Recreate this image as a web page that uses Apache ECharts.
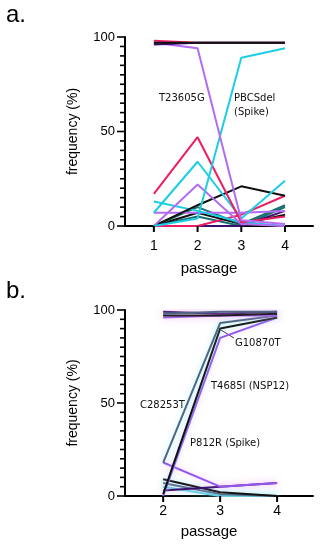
<!DOCTYPE html>
<html><head><meta charset="utf-8">
<script src="https://cdn.jsdelivr.net/npm/echarts@6/dist/echarts.min.js"></script>
<style>html,body{margin:0;padding:0;background:#fff}#c{width:321px;height:550px}</style>
</head><body><div id="c"></div>
<script>
// ---- data: panel a ----
const passagesA = [1, 2, 3, 4];
const aTop1 = [97, 97, 97, 97];
const aTop2 = [96, 97, 97, 97];
const aTop3 = [98, 97, 97, 97];
const aT23605G = [97, 94, 3, 1];
const aPBCSdel = [0, 4, 89, 94];
const aPink2 = [17, 47, 2, 5];
const aCyan2 = [7, 34, 4, 24];
const aLav2 = [0, 22, 1, 0];
const aBlack2 = [0, 11, 21, 16];
const aCyan3 = [13, 8, 2, 0];
const aLav3 = [7, 7, 7, 8];
const aTeal1 = [0, 10, 1, 11];
const aBlack3 = [0, 7, 1, 6];
const aPink3 = [0, 0, 6, 16];
const aDPurple2 = [0, 0, 0, 8];
const aTeal2 = [0, 5, 0, 10];
// ---- data: panel b ----
const passagesB = [2, 3, 4];
const bTop1 = [98, 99, 99];
const bTop2 = [97, 97, 98];
const bTop3 = [99, 98, 99];
const bTop4 = [96, 97, 97];
const bC28253T = [18, 93, 97];
const bT4685I = [1, 90, 96];
const bP812R = [0, 85, 96];
const bLav = [18, 5, 7];
const bDPurple = [3, 5, 7];
const bBlack2 = [9, 2, 0];
const bSlate2 = [7, 1, 0];
const bCyan = [5, 0, 0];
const yTicks = [0, 50, 100];
const yMinorTicks = [5,10,15,20,25,30,35,40,45,55,60,65,70,75,80,85,90,95];
const xRangeA = [0.34, 4.64];
const xRangeB = [1.33, 4.63];

const PINK = '#ee1c62', CYAN = '#1ccde6', LAV = '#b46cf0', BLACK = '#111111',
      DPUR = '#3a0f6e', TEAL = '#17706f', SLATE = '#4d6685', PURP = '#9457ee', LCYAN = '#63cde0';

function pairs(xs, ys) { return xs.map((x, i) => [x, ys[i]]); }
function ser(idx, xs, ys, color, glow) {
  const ls = { color: color, width: 2 };
  if (glow) { ls.shadowColor = glow; ls.shadowBlur = 6; }
  return { type: 'line', xAxisIndex: idx, yAxisIndex: idx, data: pairs(xs, ys),
    symbol: 'none', lineStyle: ls, silent: true, animation: false, z: 3 };
}
// tick marks drawn by a custom series through the axes' scales
function tickSeries(idx, points, dx, dy, w) {
  return { type: 'custom', xAxisIndex: idx, yAxisIndex: idx, data: points,
    clip: false, silent: true, animation: false, z: 10,
    renderItem: function (params, api) {
      const p = api.coord([api.value(0), api.value(1)]);
      return { type: 'line', shape: { x1: p[0], y1: p[1], x2: p[0] + dx, y2: p[1] + dy },
        style: { stroke: '#000', lineWidth: w } };
    } };
}
function yTickPts(range, vals) { return vals.map(v => [range[0], v]); }
function xTickPts(vals) { return vals.map(v => [v, 0]); }

const chart = echarts.init(document.getElementById('c'), null, { renderer: 'canvas' });
const axisFont = 'Liberation Sans, Arial, sans-serif';
function xAxis(idx, range, ticks, margin, gap) {
  return { type: 'value', gridIndex: idx, min: range[0], max: range[1], position: 'bottom',
    axisLine: { show: true, onZero: false, lineStyle: { color: '#000', width: 2 } },
    axisTick: { show: false },
    axisLabel: { customValues: ticks, color: '#000', fontSize: 14, fontFamily: axisFont, margin: margin },
    splitLine: { show: false },
    name: 'passage', nameLocation: 'middle', nameGap: gap,
    nameTextStyle: { color: '#000', fontSize: 15, fontFamily: axisFont, padding: [0, 0, 0, -20] } };
}
function yAxis(idx) {
  return { type: 'value', gridIndex: idx, min: 0, max: 100, position: 'left',
    axisLine: { show: true, onZero: false, lineStyle: { color: '#000', width: 2 } },
    axisTick: { show: false },
    axisLabel: { customValues: yTicks, color: '#000', fontSize: 13, fontFamily: axisFont, margin: 10 },
    splitLine: { show: false },
    name: 'frequency (%)', nameLocation: 'middle', nameGap: 45,
    nameTextStyle: { color: '#000', fontSize: 14, fontFamily: axisFont } };
}
const lblFont = 'DejaVu Sans, sans-serif';
function txt(x, y, t) {
  return { type: 'text', left: x, top: y, style: { text: t, fill: '#111', font: '10px ' + lblFont, lineHeight: 14 } };
}

chart.setOption({
  backgroundColor: '#fff',
  grid: [
    { left: 125, top: 37, width: 188, height: 189 },
    { left: 125, top: 310, width: 188, height: 186 }
  ],
  xAxis: [xAxis(0, xRangeA, passagesA, 13, 35), xAxis(1, xRangeB, passagesB, 8, 28)],
  yAxis: [yAxis(0), yAxis(1)],
  series: [
    ser(0, passagesA, aTeal2, TEAL),
    ser(0, passagesA, aDPurple2, DPUR),
    ser(0, passagesA, aPink3, PINK),
    ser(0, passagesA, aBlack3, BLACK),
    ser(0, passagesA, aTeal1, TEAL),
    ser(0, passagesA, aLav3, LAV),
    ser(0, passagesA, aCyan3, CYAN),
    ser(0, passagesA, aBlack2, BLACK),
    ser(0, passagesA, aLav2, LAV),
    ser(0, passagesA, aCyan2, CYAN),
    ser(0, passagesA, aPink2, PINK),
    ser(0, passagesA, aPBCSdel, CYAN),
    ser(0, passagesA, aT23605G, LAV),
    ser(0, passagesA, aTop3, PINK),
    ser(0, passagesA, aTop2, DPUR),
    ser(0, passagesA, aTop1, BLACK),
    ser(1, passagesB, bCyan, LCYAN, 'rgba(130,235,245,0.6)'),
    ser(1, passagesB, bSlate2, SLATE, 'rgba(130,235,245,0.6)'),
    ser(1, passagesB, bBlack2, BLACK, 'rgba(130,235,245,0.5)'),
    ser(1, passagesB, bDPurple, DPUR, 'rgba(240,160,250,0.5)'),
    ser(1, passagesB, bLav, PURP, 'rgba(240,160,250,0.5)'),
    ser(1, passagesB, bP812R, PURP, 'rgba(250,180,250,0.5)'),
    ser(1, passagesB, bT4685I, BLACK, 'rgba(130,235,245,0.5)'),
    ser(1, passagesB, bC28253T, SLATE, 'rgba(130,235,245,0.6)'),
    ser(1, passagesB, bTop4, PURP, 'rgba(250,170,250,0.5)'),
    ser(1, passagesB, bTop3, DPUR, 'rgba(250,170,250,0.5)'),
    ser(1, passagesB, bTop2, BLACK, 'rgba(250,170,250,0.5)'),
    ser(1, passagesB, bTop1, SLATE, 'rgba(250,170,250,0.5)'),
    tickSeries(0, yTickPts(xRangeA, yTicks), -8, 0, 1.6),
    tickSeries(0, yTickPts(xRangeA, yMinorTicks), -5, 0, 1.6),
    tickSeries(0, xTickPts(passagesA), 0, 6, 2),
    tickSeries(1, yTickPts(xRangeB, yTicks), -8, 0, 1.6),
    tickSeries(1, yTickPts(xRangeB, yMinorTicks), -5, 0, 1.6),
    tickSeries(1, xTickPts(passagesB), 0, 6, 2)
  ],
  graphic: [
    { type: 'text', left: 6, top: 3, style: { text: 'a.', fill: '#000', font: '24px ' + axisFont } },
    { type: 'text', left: 6, top: 279, style: { text: 'b.', fill: '#000', font: '24px ' + axisFont } },
    txt(159, 91, 'T23605G'),
    txt(234, 91, 'PBCSdel\n(Spike)'),
    txt(235, 336, 'G10870T'),
    txt(211, 379, 'T4685I (NSP12)'),
    txt(140, 398, 'C28253T'),
    txt(190, 436, 'P812R (Spike)'),
    { type: 'line', shape: { x1: 221, y1: 330, x2: 234, y2: 338 }, style: { stroke: '#333', lineWidth: 1 } }
  ]
});
</script></body></html>
